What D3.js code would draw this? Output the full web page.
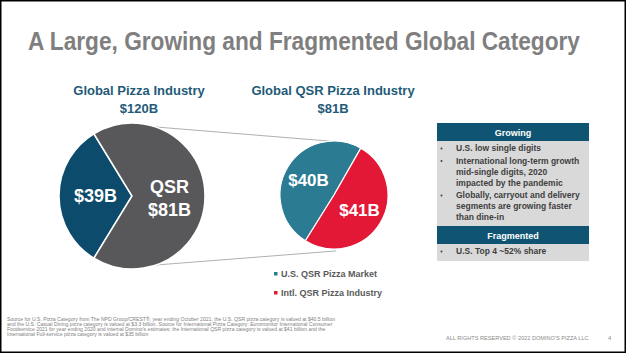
<!DOCTYPE html>
<html>
<head>
<meta charset="utf-8">
<script src="https://cdn.jsdelivr.net/npm/d3@7"></script>
<style>
  body { margin: 0; background: #fff; }
  svg { display: block; font-family: "Liberation Sans", Arial, sans-serif; }
</style>
</head>
<body>
<svg id="chart"></svg>
<script>
// Chart data
const industryLabels = ["Other", "QSR"];
const industryValues = [39, 81];
const qsrLabels = ["U.S. QSR Pizza Market", "Intl. QSR Pizza Industry"];
const qsrValues = [40, 41];
const growingBullets = [
    ["U.S. low single digits"],
    ["International long-term growth", "mid-single digits, 2020", "impacted by the pandemic"],
    ["Globally, carryout and delivery", "segments are growing faster", "than dine-in"]
];
const fragmentedBullets = [["U.S. Top 4 ~52% share"]];
const footnoteLines = [
    "Source for U.S. Pizza Category from The NPD Group/CREST®, year ending October 2021; the U.S. QSR pizza category is valued at $40.5 billion",
    "and the U.S. Casual Dining pizza category is valued at $3.3 billion. Source for International Pizza Category: Euromonitor International Consumer",
    "Foodservice 2021 for year ending 2020 and internal Domino's estimates; the International QSR pizza category is valued at $41 billion and the",
    "International Full-service pizza category is valued at $35 billion"
];

const width = 626, height = 353;
const svg = d3.select("#chart").attr("width", width).attr("height", height);

svg.append("rect").attr("width", width).attr("height", height).attr("fill", "#fff");

// Title (condensed via horizontal scale)
const title = svg.append("text")
    .style("font-size", "25px").style("font-weight", "bold")
    .attr("fill", "#7f7f7f")
    .text("A Large, Growing and Fragmented Global Category");
const titleW = title.node().getComputedTextLength();
title.attr("transform", `translate(28,50) scale(${552 / titleW},1)`);

const deg = Math.PI / 180;

// Left pie
const leftC = [132, 196], leftR = 73;
const leftStart = 270 * deg - (industryValues[0] / d3.sum(industryValues)) * Math.PI;
const leftPie = d3.pie().sort(null).startAngle(leftStart).endAngle(leftStart + 2 * Math.PI)(industryValues);
const leftArc = d3.arc().innerRadius(0).outerRadius(leftR);
const leftColors = ["#0c4b6c", "#58585b"];

// Right pie
const rightC = [334, 195], rightR = 54;
const rightStart = 212 * deg;
const rightPie = d3.pie().sort(null).startAngle(rightStart).endAngle(rightStart + 2 * Math.PI)(qsrValues);
const rightArc = d3.arc().innerRadius(0).outerRadius(rightR);
const rightColors = ["#2b7b92", "#e21836"];

// Connector lines between pies
const pt = (c, r, a) => [c[0] + r * Math.sin(a), c[1] - r * Math.cos(a)];
const connectors = [
    [pt(leftC, leftR, 19 * deg), pt(rightC, rightR, -4 * deg)],
    [pt(leftC, leftR, 161 * deg), pt(rightC, rightR + 2, 178 * deg)]
];
svg.append("g").selectAll("line")
    .data(connectors)
    .join("line")
    .attr("x1", d => d[0][0]).attr("y1", d => d[0][1])
    .attr("x2", d => d[1][0]).attr("y2", d => d[1][1])
    .attr("stroke", "#b0b0b0").attr("stroke-width", 1);

const lg = svg.append("g").attr("transform", `translate(${leftC})`);
lg.selectAll("path")
    .data(leftPie)
    .join("path")
    .attr("d", leftArc)
    .attr("fill", (d, i) => leftColors[i])
    .attr("stroke", "#fff").attr("stroke-width", 1.5);

const labelArc = r => d3.arc().innerRadius(r).outerRadius(r);
const lc = labelArc(leftR * 0.5);
lg.append("text")
    .attr("transform", `translate(${lc.centroid(leftPie[0])})`)
    .attr("y", 6).attr("text-anchor", "middle")
    .style("font-size", "18px").style("font-weight", "bold").attr("fill", "#fff")
    .text(`$${industryValues[0]}B`);
const qsrLbl = lg.append("text")
    .attr("transform", `translate(${lc.centroid(leftPie[1])})`)
    .attr("text-anchor", "middle")
    .style("font-size", "18px").style("font-weight", "bold").attr("fill", "#fff");
qsrLbl.append("tspan").attr("x", 1).attr("y", -3).text(industryLabels[1]);
qsrLbl.append("tspan").attr("x", 1).attr("y", 20).text(`$${industryValues[1]}B`);

const rg = svg.append("g").attr("transform", `translate(${rightC})`);
rg.selectAll("path")
    .data(rightPie)
    .join("path")
    .attr("d", rightArc)
    .attr("fill", (d, i) => rightColors[i])
    .attr("stroke", "#fff").attr("stroke-width", 1.2);
const rc = labelArc(rightR * 0.55);
rg.selectAll("text.val")
    .data(rightPie)
    .join("text")
    .attr("class", "val")
    .attr("transform", d => `translate(${rc.centroid(d)})`)
    .attr("y", 6).attr("text-anchor", "middle")
    .style("font-size", "17px").style("font-weight", "bold").attr("fill", "#fff")
    .text(d => `$${d.data}B`);

// Pie headings
const headColor = "#1f5b78";
const headings = [
    { x: 139, lines: ["Global Pizza Industry", `$${d3.sum(industryValues)}B`] },
    { x: 333, lines: ["Global QSR Pizza Industry", `$${d3.sum(qsrValues)}B`] }
];
headings.forEach(h => {
    svg.append("g").selectAll("text")
        .data(h.lines)
        .join("text")
        .attr("x", h.x).attr("y", (d, i) => 95 + i * 18)
        .attr("text-anchor", "middle")
        .style("font-size", "13px").style("font-weight", "bold")
        .attr("fill", headColor)
        .text(d => d);
});

// Legend
const legend = svg.append("g").selectAll("g")
    .data(qsrLabels)
    .join("g")
    .attr("transform", (d, i) => `translate(274,${277 + i * 19})`);
legend.append("rect")
    .attr("x", 0).attr("y", -5).attr("width", 3.5).attr("height", 3.5)
    .attr("fill", (d, i) => rightColors[i]);
legend.append("text")
    .attr("x", 7).attr("y", 0)
    .style("font-size", "9px").style("font-weight", "bold")
    .attr("fill", "#5a5a5a")
    .text(d => d);

// Side box
const boxX = 437, boxW = 152;
const box = svg.append("g");
function section(y0, title, bullets, bodyH) {
    box.append("rect").attr("x", boxX).attr("y", y0).attr("width", boxW).attr("height", 18).attr("fill", "#0f5573");
    box.append("text")
        .attr("x", boxX + boxW / 2).attr("y", y0 + 12.5)
        .attr("text-anchor", "middle")
        .style("font-size", "9px").style("font-weight", "bold").attr("fill", "#fff")
        .text(title);
    box.append("rect").attr("x", boxX).attr("y", y0 + 18).attr("width", boxW).attr("height", bodyH).attr("fill", "#d9d9d9");
    let y = y0 + 28;
    bullets.forEach(lines => {
        box.append("circle").attr("cx", 441.5).attr("cy", y - 2.5).attr("r", 1).attr("fill", "#404040");
        lines.forEach((line, i) => {
            box.append("text")
                .attr("x", 456).attr("y", y)
                .style("font-size", "8.5px").style("font-weight", "bold")
                .attr("fill", "#404040")
                .text(line);
            y += i < lines.length - 1 ? 11 : 12.5;
        });
    });
}
section(123, "Growing", growingBullets, 85);
section(226, "Fragmented", fragmentedBullets, 17);

// Footnote
svg.append("g").selectAll("text")
    .data(footnoteLines)
    .join("text")
    .attr("x", 7).attr("y", (d, i) => 321 + i * 5.1)
    .style("font-size", "5.1px")
    .attr("fill", "#808080")
    .text(d => d);

svg.append("text")
    .attr("x", 446).attr("y", 340)
    .style("font-size", "5.6px").attr("fill", "#8c8c8c")
    .text("ALL RIGHTS RESERVED © 2022 DOMINO'S PIZZA LLC");
svg.append("text")
    .attr("x", 608).attr("y", 340)
    .style("font-size", "6px").attr("fill", "#8c8c8c")
    .text("4");

// Frame
svg.append("rect")
    .attr("x", 0.75).attr("y", 0.75).attr("width", width - 1.5).attr("height", height - 1.5)
    .attr("fill", "none").attr("stroke", "#000").attr("stroke-width", 1.5);
</script>
</body>
</html>
